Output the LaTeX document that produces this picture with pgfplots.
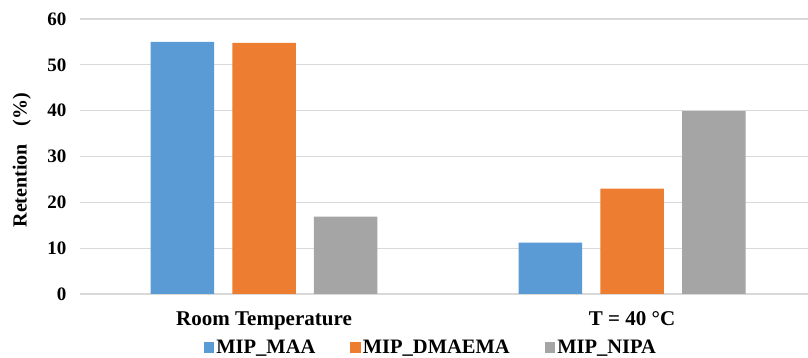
\documentclass[border=0pt]{standalone}
\usepackage{pgfplots}
\pgfplotsset{compat=1.18}
\usepackage{fontspec}
\setmainfont{Liberation Serif}
\definecolor{cblue}{HTML}{5B9BD5}
\definecolor{corange}{HTML}{ED7D31}
\definecolor{cgray}{HTML}{A5A5A5}
\definecolor{gridgray}{HTML}{D9D9D9}
\begin{document}
\begin{tikzpicture}[x=1pt,y=1pt]
\path[use as bounding box] (0,0) rectangle (808,358);
\begin{axis}[
  at={(80pt,64pt)}, anchor=south west,
  scale only axis, width=728pt, height=275pt,
  xmin=-0.5, xmax=1.478, ymin=0, ymax=60,
  ybar=18.2pt, bar width=63.5pt,
  xtick={0,1}, xticklabels={Room Temperature, T = 40 °C},
  ytick={0,10,...,60},
  ymajorgrids, grid style={draw=gridgray, line width=1.2pt},
  axis line style={draw=none}, tick style={draw=none},
  /pgf/number format/assume math mode=true,
  yticklabel style={font=\bfseries\fontsize{19}{22}\selectfont, xshift=-10pt},
  xticklabel style={font=\bfseries\fontsize{21}{24}\selectfont, yshift=-10pt},
  ylabel={Retention\hspace{18pt}(\%)},
  ylabel style={font=\bfseries\fontsize{20}{22}\selectfont, at={(axis description cs:-0.08,0.487)}, anchor=center},
  legend style={at={(axis description cs:0.482,-0.196)}, anchor=center, draw=none, fill=none,
    font=\bfseries\fontsize{20.5}{23}\selectfont, /tikz/every even column/.append style={column sep=33pt}},
  legend columns=3,
  legend image code/.code={\fill[#1] (0pt,-5pt) rectangle (10.5pt,5.5pt);},
]
\addplot[fill=cblue, draw=none] coordinates {(0,55) (1,11.2)};
\addplot[fill=corange, draw=none] coordinates {(0,54.8) (1,23)};
\addplot[fill=cgray, draw=none] coordinates {(0,16.9) (1,39.9)};
\legend{MIP\_MAA, MIP\_DMAEMA, MIP\_NIPA}
\end{axis}
\end{tikzpicture}
\end{document}
